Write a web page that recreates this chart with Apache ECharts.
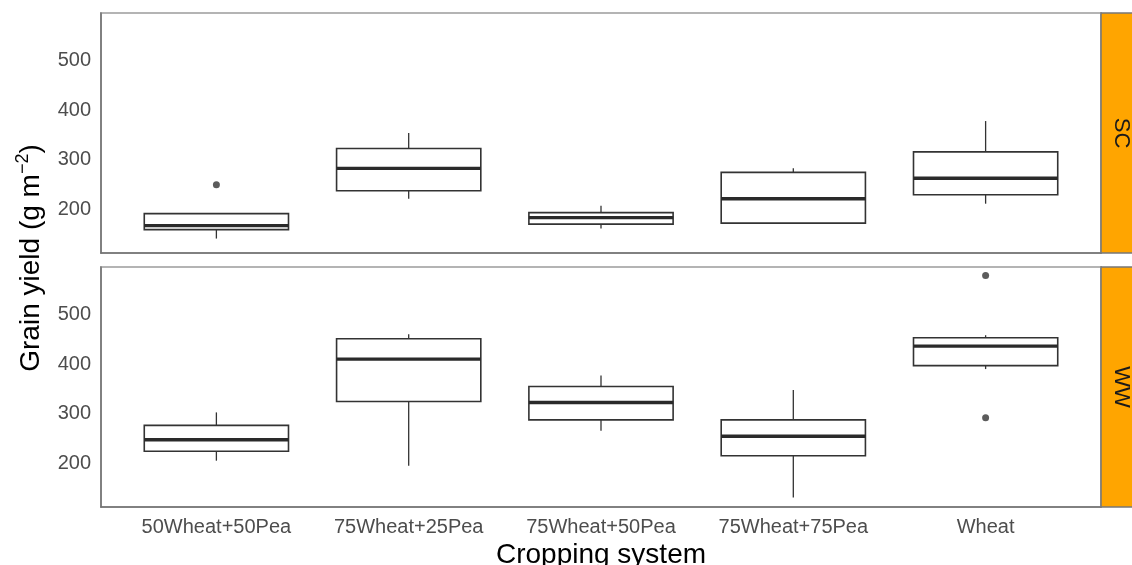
<!DOCTYPE html>
<html>
<head>
<meta charset="utf-8">
<script src="https://cdn.jsdelivr.net/npm/echarts@6/dist/echarts.min.js"></script>
<style>html,body{margin:0;padding:0;background:#fff;}#c{width:1132px;height:565px;}</style>
</head>
<body>
<div id="c"></div>
<script>
// ---- data ----
const categories = ['50Wheat+50Pea', '75Wheat+25Pea', '75Wheat+50Pea', '75Wheat+75Pea', 'Wheat'];
const panels = ['SC', 'WW'];
// [min, Q1, median, Q3, max] per category
const scBoxes = [
  [142, 160, 168, 192, 193],
  [222, 238, 283, 323, 354],
  [162, 171, 184, 194, 208],
  [173, 173, 222, 275, 283],
  [212, 230, 263, 316, 378]
];
const wwBoxes = [
  [206, 225, 248, 277, 303],
  [196, 325, 410, 451, 460],
  [266, 288, 323, 355, 377],
  [132, 216, 255, 288, 348],
  [390, 397, 436, 453, 458]
];
// outliers: [categoryIndex, value]
const scOutliers = [[0, 250]];
const wwOutliers = [[4, 578], [4, 292]];
const yTicks = [200, 300, 400, 500];

// ---- chart ----
const chart = echarts.init(document.getElementById('c'), null, {renderer: 'canvas'});
const FONT = 'Liberation Sans, Arial, Helvetica, sans-serif';

function boxRender(params, api) {
  const i = api.value(0);
  const pMin = api.coord([i, api.value(1)]);
  const pQ1 = api.coord([i, api.value(2)]);
  const pMed = api.coord([i, api.value(3)]);
  const pQ3 = api.coord([i, api.value(4)]);
  const pMax = api.coord([i, api.value(5)]);
  const w = api.size([0.75, 0])[0];
  const cx = pMed[0];
  const stroke = '#333333';
  return {
    type: 'group',
    children: [
      {type: 'line', shape: {x1: cx, y1: pQ3[1], x2: cx, y2: pMax[1]}, style: {stroke: stroke, lineWidth: 1.3}},
      {type: 'line', shape: {x1: cx, y1: pQ1[1], x2: cx, y2: pMin[1]}, style: {stroke: stroke, lineWidth: 1.3}},
      {type: 'rect', shape: {x: cx - w / 2, y: pQ3[1], width: w, height: pQ1[1] - pQ3[1]},
        style: {fill: '#ffffff', stroke: stroke, lineWidth: 1.6}},
      {type: 'line', shape: {x1: cx - w / 2, y1: pMed[1], x2: cx + w / 2, y2: pMed[1]},
        style: {stroke: '#2a2a2a', lineWidth: 3.4}}
    ]
  };
}

function yAxis(gi) {
  return {
    type: 'value', gridIndex: gi, min: 113, max: 595,
    axisLine: {show: true, onZero: false, lineStyle: {color: '#707070', width: 1.5}},
    axisTick: {show: false},
    splitLine: {show: false},
    axisLabel: {customValues: yTicks, color: '#4d4d4d', fontSize: 20, fontFamily: FONT, margin: 10}
  };
}
function xAxis(gi, showLabels) {
  return {
    type: 'value', gridIndex: gi, min: -0.6, max: 4.6,
    axisLine: {show: true, onZero: false, lineStyle: {color: '#707070', width: 1.5}},
    axisTick: {show: false},
    splitLine: {show: false},
    axisLabel: {
      show: showLabels, customValues: [0, 1, 2, 3, 4],
      formatter: function (v) { return categories[Math.round(v)]; },
      color: '#4d4d4d', fontSize: 20, fontFamily: FONT, margin: 10
    },
    name: showLabels ? 'Cropping system' : '',
    nameLocation: 'middle', nameGap: 34,
    nameTextStyle: {color: '#000', fontSize: 28, fontFamily: FONT}
  };
}

const option = {
  backgroundColor: '#ffffff',
  animation: false,
  grid: [
    {left: 101, top: 13, width: 1000, height: 240, outerBoundsMode: 'none', containLabel: false,
      show: true, borderColor: '#b4b4b4', borderWidth: 2, backgroundColor: '#fff'},
    {left: 101, top: 267, width: 1000, height: 240, outerBoundsMode: 'none', containLabel: false,
      show: true, borderColor: '#b4b4b4', borderWidth: 2, backgroundColor: '#fff'}
  ],
  xAxis: [xAxis(0, false), xAxis(1, true)],
  yAxis: [yAxis(0), yAxis(1)],
  series: [
    {type: 'custom', xAxisIndex: 0, yAxisIndex: 0, renderItem: boxRender,
      encode: {x: 0, y: [1, 2, 3, 4, 5]},
      data: scBoxes.map(function (b, i) { return [i].concat(b); })},
    {type: 'custom', xAxisIndex: 1, yAxisIndex: 1, renderItem: boxRender,
      encode: {x: 0, y: [1, 2, 3, 4, 5]},
      data: wwBoxes.map(function (b, i) { return [i].concat(b); })},
    {type: 'scatter', xAxisIndex: 0, yAxisIndex: 0, symbolSize: 7, itemStyle: {color: '#333'}, data: scOutliers},
    {type: 'scatter', xAxisIndex: 1, yAxisIndex: 1, symbolSize: 7, itemStyle: {color: '#333'}, data: wwOutliers}
  ],
  graphic: [
    {type: 'rect', shape: {x: 1101, y: 13, width: 60, height: 240}, style: {fill: '#FFA500', stroke: '#777', lineWidth: 1.5}, z: 10},
    {type: 'rect', shape: {x: 1101, y: 267, width: 60, height: 240}, style: {fill: '#FFA500', stroke: '#777', lineWidth: 1.5}, z: 10},
    {type: 'text', x: 1121, y: 133, rotation: -Math.PI / 2, z: 11,
      style: {text: panels[0], fill: '#1a1a1a', font: '22px ' + FONT, align: 'center', verticalAlign: 'middle'}},
    {type: 'text', x: 1121, y: 387, rotation: -Math.PI / 2, z: 11,
      style: {text: panels[1], fill: '#1a1a1a', font: '22px ' + FONT, align: 'center', verticalAlign: 'middle'}},
    {type: 'text', x: 31, y: 258, rotation: Math.PI / 2, z: 11,
      style: {
        text: '{a|Grain yield (g m}{b|−2}{a|)}',
        align: 'center', verticalAlign: 'middle',
        rich: {
          a: {fontSize: 28, fontFamily: FONT, fill: '#000', color: '#000'},
          b: {fontSize: 18, fontFamily: FONT, fill: '#000', color: '#000', padding: [0, 0, 16, 0]}
        }
      }}
  ]
};
chart.setOption(option);
</script>
</body>
</html>
